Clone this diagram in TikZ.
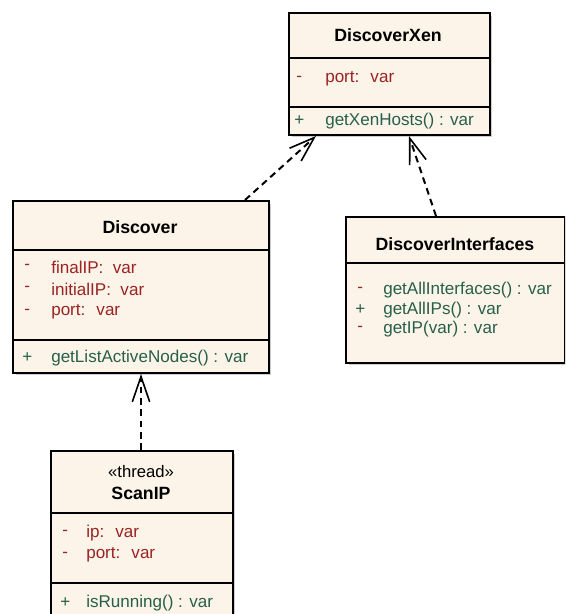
\documentclass[tikz,border=0pt]{standalone}
\usepackage{fontspec}
\setmainfont{Liberation Sans}
\usetikzlibrary{arrows.meta,calc}
\definecolor{boxfill}{RGB}{252,244,232}
\definecolor{attrred}{RGB}{155,35,35}
\definecolor{methgreen}{RGB}{40,95,75}
\definecolor{shadowgray}{RGB}{205,205,205}
\tikzset{
  umlbox/.style={draw=black, line width=1.5pt, fill=boxfill, rectangle, anchor=north west, inner sep=0pt},
  sepline/.style={line width=1.3pt},
  shadowbox/.style={fill=shadowgray, draw=none},
  titletext/.style={font=\fontsize{13.3}{15}\selectfont\bfseries, anchor=center, inner sep=0pt},
  stereotext/.style={font=\fontsize{12.5}{15}\selectfont, anchor=center, inner sep=0pt},
  attrtext/.style={font=\fontsize{12.8}{15}\selectfont, text=attrred, anchor=west, inner sep=0pt},
  methtext/.style={font=\fontsize{12.8}{15}\selectfont, text=methgreen, anchor=west, inner sep=0pt},
  depend/.style={line width=1.5pt, dash pattern=on 5pt off 3.5pt, -{Straight Barb[length=19pt,width=13pt,line width=1.2pt]}},
}
\begin{document}
\begin{tikzpicture}[x=0.75pt,y=-0.75pt]
\useasboundingbox (0,0) rectangle (565,614);
\clip (0,0) rectangle (565,614);
% shadows
\fill[shadowbox] (292,16) rectangle (492,137);
\fill[shadowbox] (16,204) rectangle (271,375);
\fill[shadowbox] (349,220) rectangle (568,365);
\fill[shadowbox] (54,454) rectangle (235,624);
% DiscoverXen
\node[umlbox, minimum width=201*0.75pt, minimum height=122*0.75pt] (xen) at (288,12) {};
\draw[sepline] (288,58) -- (489,58);
\draw[sepline] (288,107) -- (489,107);
\node[titletext] (xent) at (388,35) {DiscoverXen};
\node[attrtext] (xens1) at (296,79) {-};
\node[attrtext] (xena1) at (325,79) {port:~ var};
\node[methtext] (xens2) at (294,121) {+};
\node[methtext] (xenm1) at (325,121) {getXenHosts() : var};
% Discover
\node[umlbox, minimum width=256*0.75pt, minimum height=172*0.75pt] (disc) at (12,200) {};
\draw[sepline] (12,250) -- (268,250);
\draw[sepline] (12,340) -- (268,340);
\node[titletext] (disct) at (140,227) {Discover};
\node[attrtext] (discs1) at (24,267) {-};
\node[attrtext] (disca1) at (51,267) {finalIP:~ var};
\node[attrtext] (discs2) at (24,289) {-};
\node[attrtext] (disca2) at (51,289) {initialIP:~ var};
\node[attrtext] (discs3) at (24,312) {-};
\node[attrtext] (disca3) at (51,312) {port:~ var};
\node[methtext] (discs4) at (22,358) {+};
\node[methtext] (discm1) at (51,358) {getListActiveNodes() : var};
% DiscoverInterfaces
\node[umlbox, minimum width=219*0.75pt, minimum height=146*0.75pt] (dint) at (345,216) {};
\draw[sepline] (345,263) -- (564,263);
\node[titletext] (dintt) at (455,244) {DiscoverInterfaces};
\node[attrtext] (dints1) at (357,290) {-};
\node[methtext] (dintm1) at (383,290) {getAllInterfaces() : var};
\node[methtext] (dints2) at (355,310) {+};
\node[methtext] (dintm2) at (383,310) {getAllIPs() : var};
\node[attrtext] (dints3) at (357,329) {-};
\node[methtext] (dintm3) at (383,329) {getIP(var) : var};
% ScanIP
\node[umlbox, minimum width=182*0.75pt, minimum height=170*0.75pt] (scan) at (50,450) {};
\draw[sepline] (50,513) -- (232,513);
\draw[sepline] (50,583) -- (232,583);
\node[stereotext] (scans) at (141,472) {«thread»};
\node[titletext] (scant) at (141,493) {ScanIP};
\node[attrtext] (scans1) at (62,533) {-};
\node[attrtext] (scana1) at (86,533) {ip:~ var};
\node[attrtext] (scans2) at (62,555) {-};
\node[attrtext] (scana2) at (86,555) {port:~ var};
\node[methtext] (scans3) at (60,603) {+};
\node[methtext] (scanm1) at (86,603) {isRunning() : var};
% connector endpoints
\coordinate (discTop) at ($(disc.north west)+(233,0)$);
\coordinate (xenL) at ($(xen.south west)+(28,0)$);
\coordinate (dintTop) at ($(dint.north west)+(91,0)$);
\coordinate (xenR) at ($(xen.south west)+(121,0)$);
\coordinate (scanTop) at ($(scan.north west)+(91,0)$);
\coordinate (discB) at ($(disc.south west)+(129,0)$);
\draw[depend] (discTop) -- (xenL);
\draw[depend] (dintTop) -- (xenR);
\draw[depend] (scanTop) -- (discB);
\end{tikzpicture}
\end{document}
